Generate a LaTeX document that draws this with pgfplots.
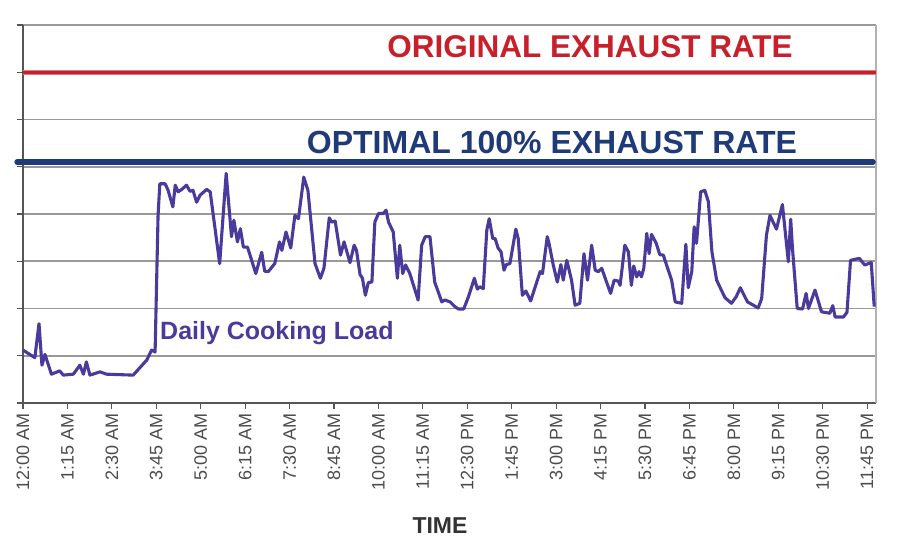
\documentclass[border=0pt]{standalone}
\usepackage{pgfplots}
\pgfplotsset{compat=1.18}
\usepackage{fontspec}
\setmainfont{Liberation Sans}
\definecolor{origred}{HTML}{C8202A}
\definecolor{optnavy}{HTML}{1E3A78}
\definecolor{loadpurple}{HTML}{4A3A9C}
\definecolor{tickgray}{HTML}{555555}
\begin{document}
\begin{tikzpicture}
\begin{axis}[
  name=ax,
  at={(0,0)}, anchor=south west,
  scale only axis,
  width=853pt, height=378pt,
  xmin=0, xmax=1440, ymin=0, ymax=8,
  axis x line*=bottom, axis y line*=left,
  axis line style={draw=tickgray, line width=1.2pt},
  xtick={0,75,150,225,300,375,450,525,600,675,750,825,900,975,1050,1125,1200,1275,1350,1425},
  xticklabels={12:00 AM,1:15 AM,2:30 AM,3:45 AM,5:00 AM,6:15 AM,7:30 AM,8:45 AM,10:00 AM,11:15 AM,12:30 PM,1:45 PM,3:00 PM,4:15 PM,5:30 PM,6:45 PM,8:00 PM,9:15 PM,10:30 PM,11:45 PM},
  xticklabel style={rotate=90, anchor=east, font=\fontsize{18}{18}\selectfont, text=black!70, inner sep=4.5pt},
  ytick={0,1,2,3,4,5,6,7,8},
  yticklabels={},
  tick align=outside,
  major tick length=6pt,
  tick style={draw=tickgray, line width=1.2pt},
  ymajorgrids,
  grid style={draw=black!40, line width=1.6pt},
  clip=false,
]
\draw[black!30, line width=1.2pt] (rel axis cs:1,0) -- (rel axis cs:1,1);
\addplot[origred!60, line width=5pt, forget plot] coordinates {(0,7) (1440,7)};
\addplot[origred, line width=3pt, forget plot] coordinates {(0,7) (1440,7)};
\addplot[optnavy, line width=5.5pt, line cap=round, forget plot] coordinates {(-10,5.1) (1435,5.1)};
\addplot[loadpurple, line width=3.1pt, line join=round, mark=none] coordinates {
(0,1.12) (20,0.96) (27,1.68) (32,0.80) (37,1.03) (48,0.61) (62,0.68) (68,0.59) (85,0.61) (96,0.80) (102,0.61) (107,0.87) (113,0.59) (130,0.66) (141,0.61) (186,0.59) (209,0.91) (217,1.12) (223,1.08) (228,3.97) (231,4.64) (240,4.64) (245,4.50) (253,4.15) (257,4.61) (262,4.47) (268,4.52) (276,4.61) (282,4.48) (287,4.50) (293,4.25) (299,4.40) (310,4.52) (316,4.47) (332,2.95) (343,4.86) (352,3.52) (356,3.87) (362,3.41) (367,3.69) (372,3.30) (379,3.30) (393,2.74) (403,3.19) (408,2.79) (414,2.78) (425,2.95) (433,3.41) (437,3.23) (444,3.62) (452,3.28) (459,3.97) (465,3.90) (474,4.78) (481,4.50) (493,2.95) (502,2.64) (508,2.85) (517,3.92) (521,3.83) (527,3.85) (536,3.13) (542,3.41) (552,2.97) (559,3.34) (563,3.23) (569,2.72) (573,2.64) (578,2.28) (583,2.55) (589,2.56) (594,3.83) (600,4.01) (608,4.01) (613,4.08) (617,3.83) (625,3.62) (632,2.64) (636,3.34) (641,2.74) (646,2.92) (653,2.74) (667,2.18) (673,3.34) (679,3.52) (687,3.52) (695,2.56) (701,2.35) (707,2.14) (712,2.18) (721,2.14) (729,2.04) (735,1.99) (744,1.99) (752,2.25) (762,2.64) (767,2.41) (771,2.46) (777,2.42) (783,3.66) (787,3.90) (793,3.48) (797,3.48) (802,3.28) (807,3.20) (812,2.81) (816,2.93) (822,2.95) (832,3.68) (836,3.48) (843,2.28) (849,2.37) (857,2.16) (873,2.78) (877,2.74) (885,3.52) (888,3.38) (895,2.93) (902,2.56) (908,2.93) (912,2.60) (918,3.02) (926,2.60) (932,2.07) (940,2.11) (947,3.16) (953,2.60) (960,3.34) (966,2.81) (971,2.78) (977,2.85) (984,2.60) (992,2.32) (998,2.60) (1005,2.58) (1008,2.49) (1016,3.34) (1022,3.20) (1027,2.49) (1031,2.90) (1036,2.67) (1040,2.78) (1044,2.67) (1048,2.85) (1053,3.59) (1057,3.16) (1061,3.57) (1069,3.38) (1075,3.14) (1081,3.13) (1088,2.86) (1095,2.60) (1101,2.14) (1112,2.11) (1119,3.36) (1123,2.44) (1129,2.78) (1133,3.73) (1137,3.38) (1144,4.47) (1151,4.50) (1157,4.26) (1163,3.20) (1171,2.60) (1177,2.44) (1185,2.23) (1196,2.11) (1204,2.25) (1211,2.44) (1223,2.14) (1233,2.07) (1241,2.01) (1247,2.21) (1255,3.55) (1261,3.97) (1272,3.68) (1282,4.20) (1292,2.99) (1296,3.89) (1299,3.27) (1307,2.00) (1316,1.99) (1322,2.32) (1326,2.00) (1337,2.39) (1348,1.93) (1362,1.90) (1367,2.06) (1371,1.82) (1385,1.82) (1391,1.92) (1397,3.02) (1404,3.04) (1412,3.06) (1421,2.92) (1427,2.95) (1432,2.97) (1437,2.04)
};
\end{axis}
\node[text=origred, font=\fontsize{31.5}{31.5}\selectfont\bfseries, inner sep=0pt] at ([xshift=567pt, yshift=356pt]ax.south west) {ORIGINAL EXHAUST RATE};
\node[text=optnavy, font=\fontsize{32}{32}\selectfont\bfseries, inner sep=0pt] at ([xshift=529pt, yshift=261pt]ax.south west) {OPTIMAL 100\% EXHAUST RATE};
\node[text=loadpurple, font=\fontsize{25}{25}\selectfont\bfseries, inner sep=0pt, anchor=west] at ([xshift=137pt, yshift=70pt]ax.south west) {Daily Cooking Load};
\node[text=black!80, font=\fontsize{23}{23}\selectfont\bfseries, inner sep=0pt] at ([xshift=417pt, yshift=-123pt]ax.south west) {TIME};
\path[use as bounding box] ([xshift=-23pt, yshift=-147pt]ax.south west) rectangle ([xshift=877pt, yshift=403pt]ax.south west);
\end{tikzpicture}
\end{document}
